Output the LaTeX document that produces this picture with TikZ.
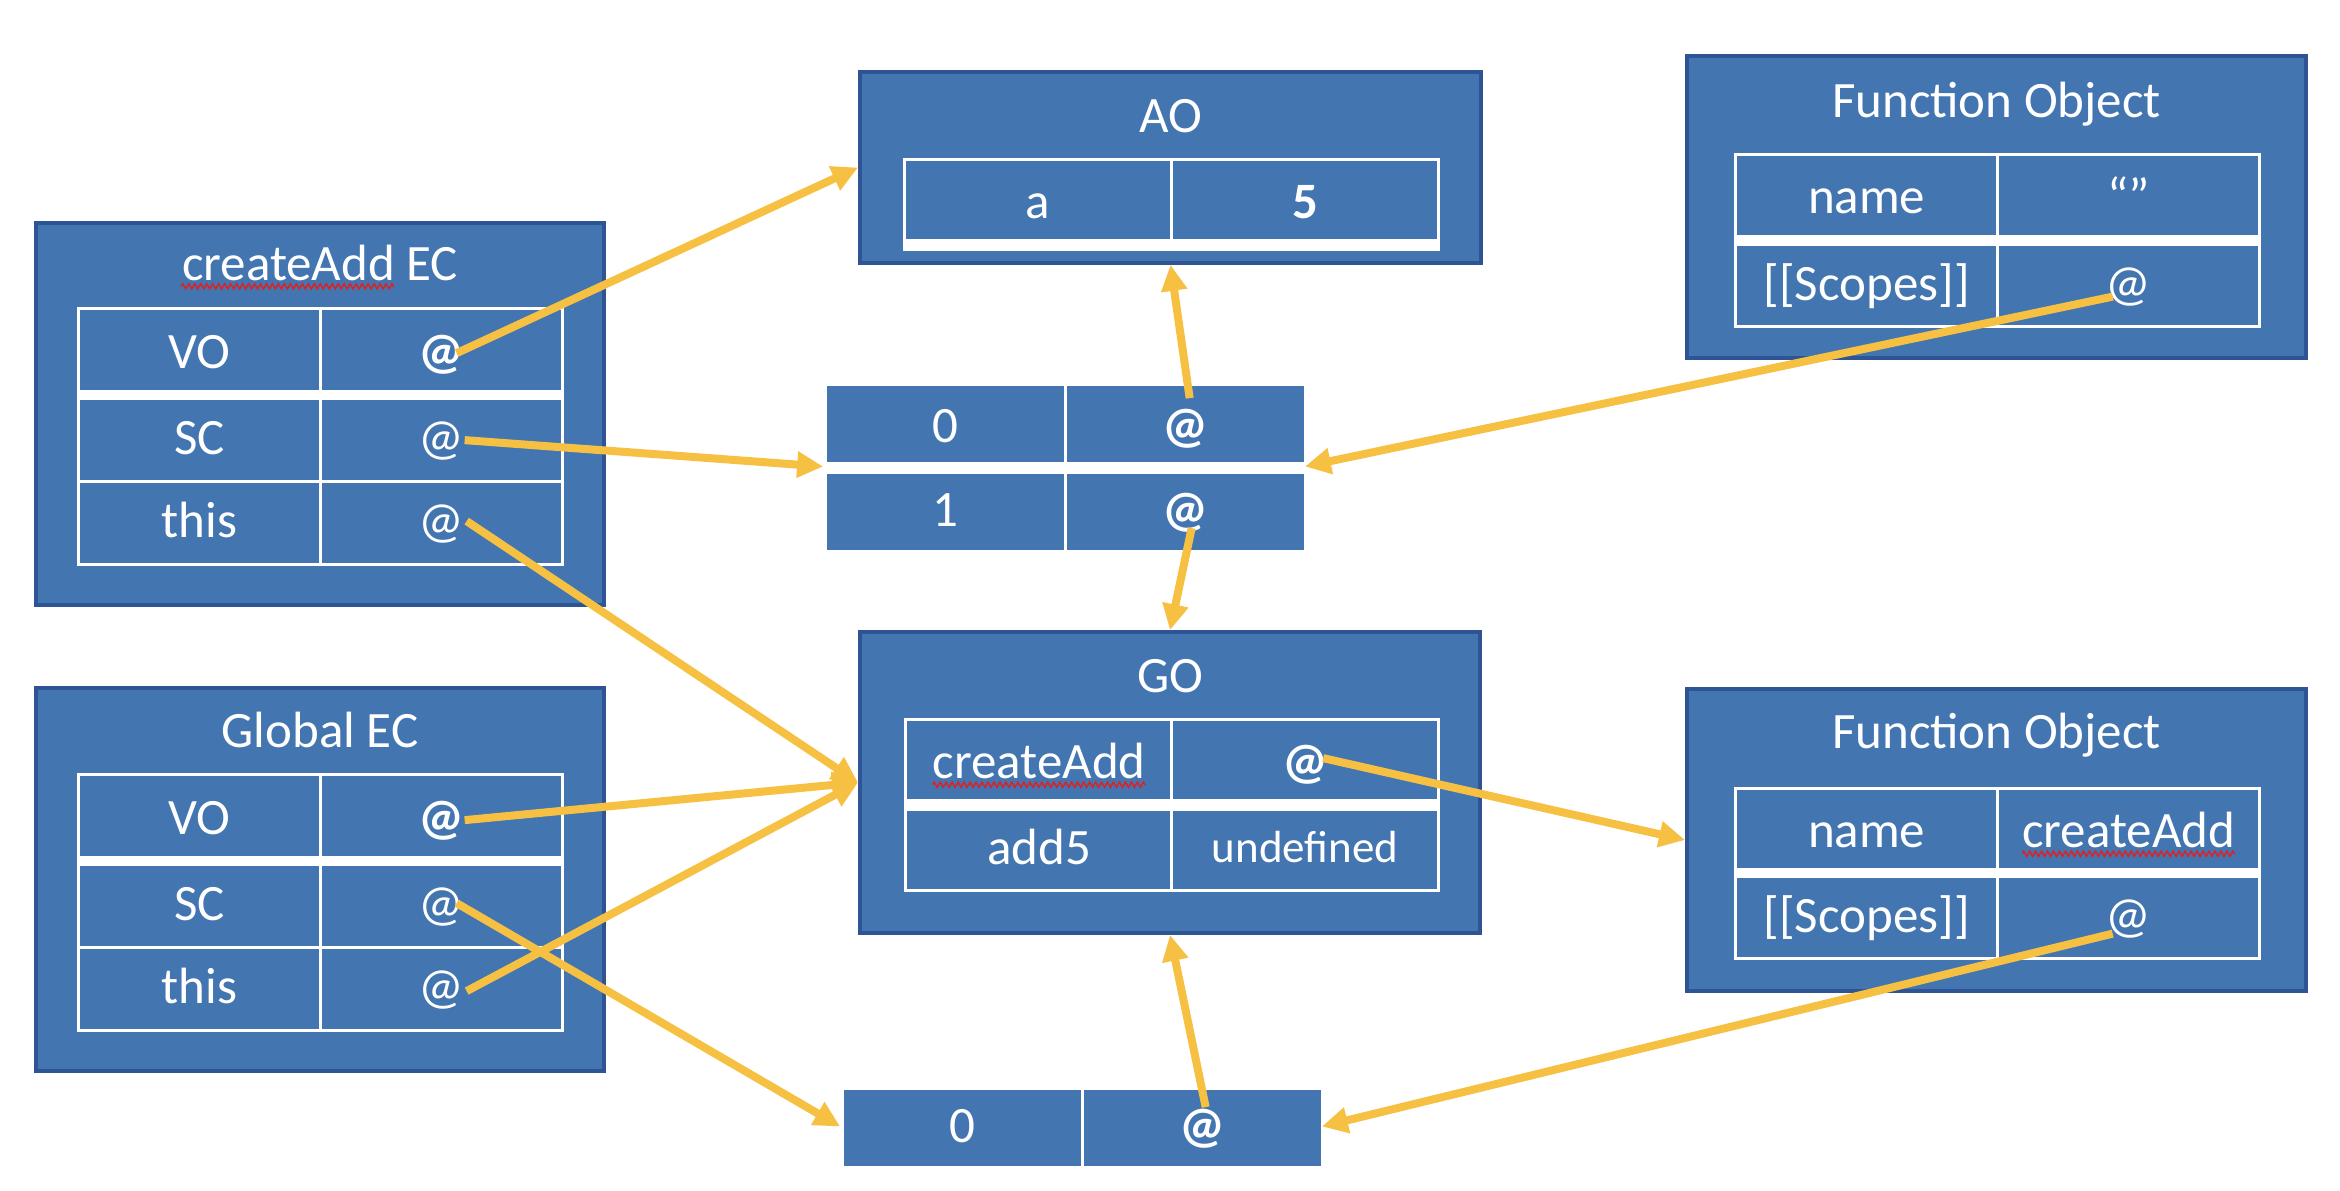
\documentclass[tikz,border=0pt]{standalone}
\usepackage{fontspec}
\setmainfont{Carlito}
\usetikzlibrary{arrows.meta,decorations.pathmorphing}

\definecolor{boxblue}{HTML}{4375B1}
\definecolor{boxedge}{HTML}{2F5496}
\definecolor{ptrgold}{HTML}{F6C142}
\definecolor{spellred}{HTML}{E02020}

\newlength\wordwidth

\begin{document}
\settowidth{\wordwidth}{\fontsize{14.5}{17}\selectfont createAdd}
\begin{tikzpicture}[x=0.01cm, y=-0.01cm, font=\fontsize{14.5}{17}\selectfont,
  frame/.style={draw=boxedge, line width=1pt, fill=boxblue, inner sep=0pt},
  ttl/.style={text=white, anchor=base, inner sep=0pt},
  cell/.style={draw=white, line width=0.9pt, fill=boxblue, text=white, anchor=north west,
    inner sep=0pt, text height=11.5pt, text depth=1.1pt},
  lower/.style={text depth=3.2pt},
  ecCell/.style={cell, minimum width=2.42cm, minimum height=0.83cm},
  objCell/.style={cell, minimum width=2.67cm, minimum height=0.81cm},
  fnCell/.style={cell, minimum width=2.62cm, minimum height=0.82cm},
  listCell/.style={cell, minimum width=2.40cm, minimum height=0.79cm},
  spell/.style={draw=spellred, line width=0.4pt, decorate,
    decoration={zigzag, segment length=1.7pt, amplitude=0.75pt}},
  ptr/.style={draw=ptrgold, line width=0.08cm, -{Triangle[length=0.26cm,width=0.25cm]}}]

\useasboundingbox (0,0) rectangle (2340,1190);

% createAdd EC
\node[frame, minimum width=5.68cm, minimum height=3.82cm] (caEC) at (320,414) {};
\node[ttl] (caTitle) at (320,280) {createAdd EC};
\draw[spell] ([yshift=-1.8pt]caTitle.base west) -- ++(\wordwidth,0pt);
\node[ecCell] (caVOk) at (77,307) {VO};
\node[ecCell] (caVOv) at (319,307) {\textbf{@}};
\node[ecCell, lower] (caSCk) at (77,397) {SC};
\node[ecCell, lower] (caSCv) at (319,397) {@};
\node[ecCell, lower] (caThk) at (77,480) {this};
\node[ecCell, lower] (caThv) at (319,480) {@};
\fill[white] (caVOk.south west) rectangle (caSCv.north east);

% Global EC
\node[frame, minimum width=5.68cm, minimum height=3.83cm] (glEC) at (320,879.5) {};
\node[ttl] (glTitle) at (320,747) {Global EC};
\node[ecCell] (glVOk) at (77,773) {VO};
\node[ecCell] (glVOv) at (319,773) {\textbf{@}};
\node[ecCell, lower] (glSCk) at (77,863) {SC};
\node[ecCell, lower] (glSCv) at (319,863) {@};
\node[ecCell, lower] (glThk) at (77,946) {this};
\node[ecCell, lower] (glThv) at (319,946) {@};
\fill[white] (glVOk.south west) rectangle (glSCv.north east);

% AO
\node[frame, minimum width=6.21cm, minimum height=1.91cm] (AO) at (1170.5,167.5) {};
\node[ttl] (aoTitle) at (1170.5,132) {AO};
\node[objCell] (aoAk) at (903,158) {a};
\node[objCell] (aoAv) at (1170,158) {\textbf{5}};
\fill[white] (aoAk.south west) rectangle ([yshift=-0.09cm]aoAv.south east);

% scope chain of createAdd
\node[inner sep=0pt, minimum width=4.80cm, minimum height=1.67cm] (scList) at (1064,466.5) {};
\node[listCell] (sc0k) at (824,383) {0};
\node[listCell] (sc0v) at (1064,383) {\textbf{@}};
\node[listCell, lower] (sc1k) at (824,471) {1};
\node[listCell, lower] (sc1v) at (1064,471) {\textbf{@}};

% GO
\node[frame, minimum width=6.20cm, minimum height=3.01cm] (GO) at (1170,782.5) {};
\node[ttl] (goTitle) at (1170,692) {GO};
\node[objCell] (goCAk) at (904,718) {createAdd};
\draw[spell] ([shift={(-0.5\wordwidth,-1.8pt)}]goCAk.base) -- ++(\wordwidth,0pt);
\node[objCell] (goCAv) at (1170,718) {\textbf{@}};
\node[objCell, lower] (goADk) at (904,808) {add5};
\node[objCell, text depth=4.5pt, font=\fontsize{12.8}{15}\selectfont] (goADv) at (1170,808) {undefined};
\fill[white] (goCAk.south west) rectangle (goADv.north east);

% scope chain of global
\node[inner sep=0pt, minimum width=4.80cm, minimum height=0.79cm] (gsList) at (1081,1126.5) {};
\node[listCell, lower] (gs0k) at (841,1087) {0};
\node[listCell, lower] (gs0v) at (1081,1087) {\textbf{@}};

% Function Object (anonymous)
\node[frame, minimum width=6.19cm, minimum height=3.02cm] (foTop) at (1996.5,207) {};
\node[ttl] (foTTitle) at (1996.5,117) {Function Object};
\node[fnCell] (foTNk) at (1734,153) {name};
\node[fnCell] (foTNv) at (1996,153) {“”};
\node[fnCell, lower] (foTSck) at (1734,243) {[[Scopes]]};
\node[fnCell, lower] (foTScv) at (1996,243) {@};
\fill[white] (foTNk.south west) rectangle (foTScv.north east);

% Function Object (createAdd)
\node[frame, minimum width=6.19cm, minimum height=3.02cm] (foBot) at (1996.5,840) {};
\node[ttl] (foBTitle) at (1996.5,748) {Function Object};
\node[fnCell, minimum height=0.81cm] (foBNk) at (1734,787) {name};
\node[fnCell, minimum height=0.81cm] (foBNv) at (1996,787) {createAdd};
\draw[spell] ([shift={(-0.5\wordwidth,-1.8pt)}]foBNv.base) -- ++(\wordwidth,0pt);
\node[fnCell, lower] (foBSck) at (1734,875) {[[Scopes]]};
\node[fnCell, lower] (foBScv) at (1996,875) {@};
\fill[white] (foBNk.south west) rectangle (foBScv.north east);

% pointers
\draw[ptr] ([shift={(15,3)}]caVOv.center) -- (AO.west);
\draw[ptr] ([shift={(23,0)}]caSCv.center) -- (scList.west);
\draw[ptr] ([shift={(25,-2)}]caThv.center) -- (GO.west);
\draw[ptr] ([shift={(23,4)}]glVOv.center) -- (GO.west);
\draw[ptr] ([shift={(15,-3)}]glSCv.center) -- (gsList.west);
\draw[ptr] ([shift={(25,2)}]glThv.center) -- (GO.west);
\draw[ptr] ([shift={(4,-26)}]sc0v.center) -- (AO.south);
\draw[ptr] ([shift={(6,16)}]sc1v.center) -- (GO.north);
\draw[ptr] ([shift={(-16,11)}]foTScv.center) -- (scList.east);
\draw[ptr] ([shift={(18,-2)}]goCAv.center) -- (foBot.west);
\draw[ptr] ([shift={(-16,16)}]foBScv.center) -- (gsList.east);
\draw[ptr] ([shift={(3,-21)}]gs0v.center) -- (GO.south);

\end{tikzpicture}
\end{document}
